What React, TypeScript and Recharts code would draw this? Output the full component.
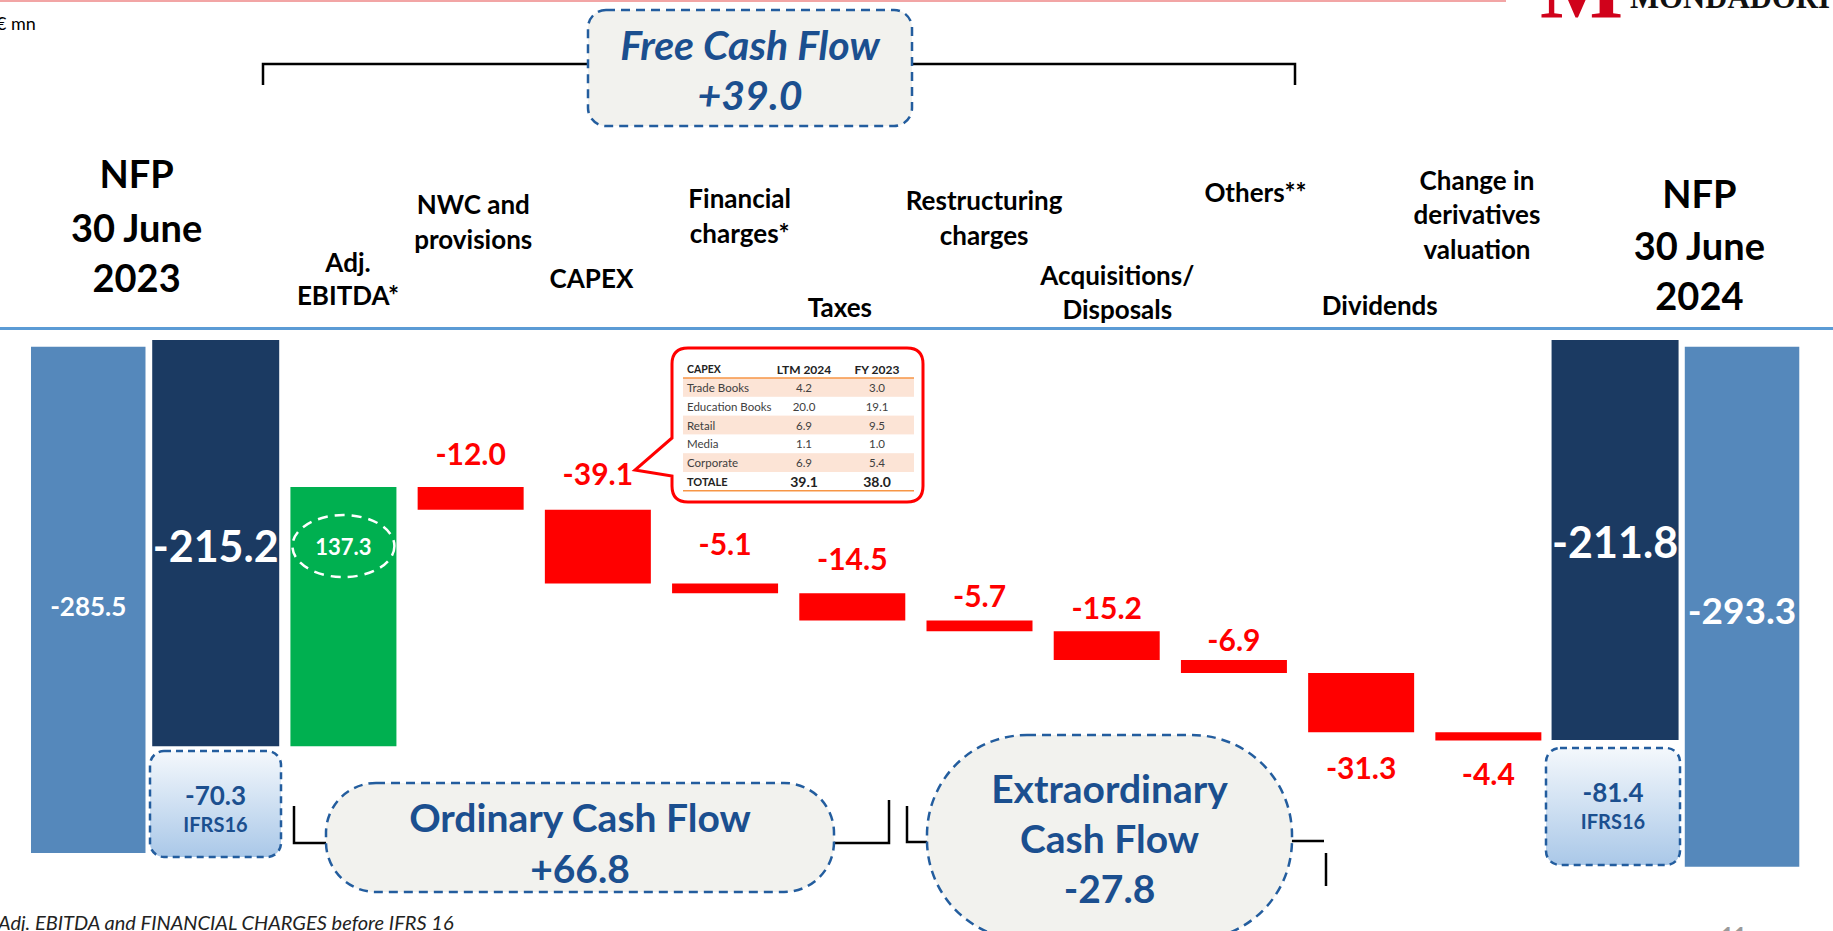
import React from "react";
import { BarChart, Bar, XAxis, YAxis, Cell, LabelList } from "recharts";

// € mn — net financial position bridge, 30 June 2023 -> 30 June 2024
const steps = [
  "NFP 30 June 2023 (incl. IFRS16)",
  "NFP 30 June 2023",
  "Adj. EBITDA*",
  "NWC and provisions",
  "CAPEX",
  "Financial charges*",
  "Taxes",
  "Restructuring charges",
  "Acquisitions/ Disposals",
  "Others**",
  "Dividends",
  "Change in derivatives valuation",
  "NFP 30 June 2024",
  "NFP 30 June 2024 (incl. IFRS16)",
];
const tickLines = [
  ["NFP", "30 June", "2023"],
  [],
  ["Adj.", "EBITDA*"],
  ["NWC and", "provisions"],
  ["CAPEX"],
  ["Financial", "charges*"],
  ["Taxes"],
  ["Restructuring", "charges"],
  ["Acquisitions/", "Disposals"],
  ["Others**"],
  ["Dividends"],
  ["Change in", "derivatives", "valuation"],
  [],
  ["NFP", "30 June", "2024"],
];
const nfpWithIfrs = [-285.5, null, null, null, null, null, null, null, null, null, null, null, null, -293.3];
const nfpNet = [null, -215.2, null, null, null, null, null, null, null, null, null, null, -211.8, null];
const flows = [null, null, 137.3, -12.0, -39.1, -5.1, -14.5, -5.7, -15.2, -6.9, -31.3, -4.4, null, null];
const ifrs16 = [-70.3, -81.4];
const freeCashFlow = 39.0;
const ordinaryCashFlow = 66.8;
const extraordinaryCashFlow = -27.8;

const capexRows = ["Trade Books", "Education Books", "Retail", "Media", "Corporate"];
const capexLtm2024 = [4.2, 20.0, 6.9, 1.1, 6.9];
const capexFy2023 = [3.0, 19.1, 9.5, 1.0, 5.4];
const capexTotals = [39.1, 38.0];

// layout of the labels above the bars (horizontal nudge, line centres)
const tickLayout = [
  { dx: 48, ys: [173, 227, 277], size: 38 },
  { dx: 0, ys: [], size: 26 },
  { dx: 5, ys: [262, 295], size: 26 },
  { dx: 3, ys: [204, 239], size: 26 },
  { dx: -6, ys: [278], size: 26 },
  { dx: 15, ys: [198, 233], size: 26 },
  { dx: -12, ys: [307], size: 26 },
  { dx: 5, ys: [200, 235], size: 26 },
  { dx: 11, ys: [275, 309], size: 26 },
  { dx: 22, ys: [192], size: 26 },
  { dx: 19, ys: [305], size: 26 },
  { dx: -11, ys: [180, 214, 249], size: 26 },
  { dx: 0, ys: [], size: 26 },
  { dx: -43, ys: [193, 245, 295], size: 38 },
];
const flowLabelGap = [0, 0, 0, 34, 37, 41, 35, 26, 24, 21, -35, -33, 0, 0];

const FONT = "Lato, 'Open Sans', sans-serif";
const LIGHT = "#5588bb";
const NAVY = "#1b3a62";
const GREEN = "#00b050";
const RED = "#ff0000";
const BOX_TEXT = "#1b4f8f";
const BOX_LINE = "#235d9e";

const fmt = (v: number) => v.toFixed(1);
const signed = (v: number) => (v > 0 ? "+" : "") + v.toFixed(1);

let running = 0;
const rows = steps.map((step, i) => {
  if (nfpNet[i] != null) running = nfpNet[i] as number;
  let flowRange: number[] | null = null;
  const f = flows[i];
  if (f != null) {
    flowRange = [running, running + f];
    running += f;
  }
  return { step, gross: nfpWithIfrs[i], net: nfpNet[i], flow: f, flowRange };
});

function CategoryTick(props: any) {
  const { x, index } = props;
  const lines = tickLines[index] || [];
  const cfg = tickLayout[index];
  return (
    <g>
      {lines.map((l, k) => (
        <text key={k} x={x + cfg.dx} y={cfg.ys[k]} textAnchor="middle" dominantBaseline="central"
          fontFamily={FONT} fontWeight={700} fontSize={cfg.size} fill="#000">
          {l}
        </text>
      ))}
    </g>
  );
}

function GrossLabel(props: any) {
  const { x, y, width, height, value } = props;
  if (typeof value !== "number") return null;
  const first = value === nfpWithIfrs[0];
  return (
    <text x={x + width / 2} y={y + height / 2 + (first ? 6 : 3)} textAnchor="middle" dominantBaseline="central"
      fontFamily={FONT} fontWeight={700} fontSize={first ? 26 : 37} fill="#fff">
      {fmt(value)}
    </text>
  );
}

function NetLabel(props: any) {
  const { x, y, width, height, value } = props;
  if (typeof value !== "number") return null;
  return (
    <text x={x + width / 2} y={y + height / 2 + 2} textAnchor="middle" dominantBaseline="central"
      fontFamily={FONT} fontWeight={700} fontSize={43} fill="#fff">
      {fmt(value)}
    </text>
  );
}

function FlowLabel(props: any) {
  const { x, y, width, height, value } = props;
  const f = Number(value);
  if (value == null || !isFinite(f)) return null;
  const idx = flows.indexOf(f);
  if (idx < 0) return null;
  const top = Math.min(y, y + height);
  const bottom = Math.max(y, y + height);
  const cx = x + width / 2;
  if (f > 0) {
    const cy = top + 59;
    return (
      <g>
        <ellipse cx={cx} cy={cy} rx={51} ry={31} fill="none" stroke="#fff" strokeWidth={2.5} strokeDasharray="10 7" />
        <text x={cx} y={cy} textAnchor="middle" dominantBaseline="central" fontFamily={FONT} fontWeight={700} fontSize={22} fill="#fff">
          {fmt(f)}
        </text>
      </g>
    );
  }
  const gap = flowLabelGap[idx];
  const cy = gap > 0 ? top - gap : bottom - gap;
  return (
    <text x={cx} y={cy} textAnchor="middle" dominantBaseline="central" fontFamily={FONT} fontWeight={700} fontSize={30} fill={RED}>
      {fmt(f)}
    </text>
  );
}

function DashedBox({ x, y, w, h, r, lines, sizes, ys }: any) {
  return (
    <g>
      <rect x={x} y={y} width={w} height={h} rx={r} fill="#f2f2ee" stroke={BOX_LINE} strokeWidth={2.5} strokeDasharray="9 6" />
      {lines.map((l: string, k: number) => (
        <text key={k} x={x + w / 2} y={ys[k]} textAnchor="middle" dominantBaseline="central"
          fontFamily={FONT} fontWeight={700} fontSize={sizes[k]} fill={BOX_TEXT}>
          {l}
        </text>
      ))}
    </g>
  );
}

function IfrsBox({ x, y, w, h, value }: any) {
  const cx = x + w / 2;
  return (
    <g>
      <rect x={x} y={y} width={w} height={h} rx={14} fill="url(#ifrsGrad)" stroke={BOX_LINE} strokeWidth={2.5} strokeDasharray="7 5" />
      <text x={cx} y={y + 44} textAnchor="middle" dominantBaseline="central" fontFamily={FONT} fontWeight={700} fontSize={26} fill={BOX_TEXT}>
        {fmt(value)}
      </text>
      <text x={cx} y={y + 73} textAnchor="middle" dominantBaseline="central" fontFamily={FONT} fontWeight={700} fontSize={20} fill={BOX_TEXT}>
        IFRS16
      </text>
    </g>
  );
}

function CapexCallout() {
  const rowH = 18.8;
  const top = 378;
  const colLabel = 687;
  const colLtm = 804;
  const colFy = 877;
  return (
    <g fontFamily={FONT}>
      <path d="M 688 348 H 907 Q 923 348 923 364 V 486 Q 923 502 907 502 H 688 Q 672 502 672 486 V 476 L 635 470 L 672 438 V 364 Q 672 348 688 348 Z"
        fill="#fff" stroke={RED} strokeWidth={3} />
      {capexRows.map((_, i) =>
        i % 2 === 0 ? <rect key={i} x={683} y={top + i * rowH} width={231} height={rowH} fill="#fce4d6" /> : null
      )}
      <text x={colLabel} y={369} dominantBaseline="central" fontSize={10.5} fontWeight={700} fill="#222">CAPEX</text>
      <text x={colLtm} y={369} textAnchor="middle" dominantBaseline="central" fontSize={12} fontWeight={700} fill="#222">LTM 2024</text>
      <text x={colFy} y={369} textAnchor="middle" dominantBaseline="central" fontSize={12} fontWeight={700} fill="#222">FY 2023</text>
      <line x1={683} x2={914} y1={top} y2={top} stroke="#f79646" strokeWidth={1.5} />
      {capexRows.map((r, i) => {
        const cy = top + i * rowH + rowH / 2;
        return (
          <g key={r} fontSize={11.5} fill="#404040">
            <text x={colLabel} y={cy} dominantBaseline="central">{r}</text>
            <text x={colLtm} y={cy} textAnchor="middle" dominantBaseline="central">{fmt(capexLtm2024[i])}</text>
            <text x={colFy} y={cy} textAnchor="middle" dominantBaseline="central">{fmt(capexFy2023[i])}</text>
          </g>
        );
      })}
      <text x={colLabel} y={top + 5 * rowH + rowH / 2} dominantBaseline="central" fontSize={11} fontWeight={700} fill="#222">TOTALE</text>
      <text x={colLtm} y={top + 5 * rowH + rowH / 2} textAnchor="middle" dominantBaseline="central" fontSize={14} fontWeight={700} fill="#222">{fmt(capexTotals[0])}</text>
      <text x={colFy} y={top + 5 * rowH + rowH / 2} textAnchor="middle" dominantBaseline="central" fontSize={14} fontWeight={700} fill="#222">{fmt(capexTotals[1])}</text>
      <line x1={683} x2={914} y1={top + 6 * rowH} y2={top + 6 * rowH} stroke="#f79646" strokeWidth={1.5} />
    </g>
  );
}

function Overlay() {
  return (
    <svg width={1833} height={931} style={{ position: "absolute", left: 0, top: 0, pointerEvents: "none" }}>
      <defs>
        <linearGradient id="ifrsGrad" x1="0" y1="0" x2="0" y2="1">
          <stop offset="0%" stopColor="#f4f8fc" />
          <stop offset="100%" stopColor="#aac8e8" />
        </linearGradient>
      </defs>
      <rect x={0} y={0} width={1506} height={2} fill="#f2a5a5" />
      <rect x={0} y={327} width={1833} height={3} fill="#5b9bd5" />
      <text x={-4} y={23} dominantBaseline="central" fontFamily={FONT} fontSize={18} fill="#000">€ mn</text>

      <text x={1540} y={17} fontFamily="'Liberation Serif', 'DejaVu Serif', serif" fontWeight={700} fontSize={88} fill="#d0021b">M</text>
      <text x={1630} y={8} textLength={200} lengthAdjust="spacingAndGlyphs" fontFamily="'Liberation Serif', 'DejaVu Serif', serif" fontWeight={700} fontSize={34} fill="#111">MONDADORI</text>

      <polyline points="263,85 263,64 1295,64 1295,85" fill="none" stroke="#000" strokeWidth={2.5} />
      <g fontStyle="italic">
        <DashedBox x={588} y={10} w={324} h={116} r={18} lines={["Free Cash Flow", signed(freeCashFlow)]} sizes={[41, 41]} ys={[44, 94]} />
      </g>

      <polyline points="294,806 294,843 330,843" fill="none" stroke="#000" strokeWidth={2.5} />
      <polyline points="830,843 889,843 889,800" fill="none" stroke="#000" strokeWidth={2.5} />
      <DashedBox x={326} y={783} w={508} h={109} r={50} lines={["Ordinary Cash Flow", signed(ordinaryCashFlow)]} sizes={[39, 39]} ys={[817, 868]} />

      <polyline points="907,806 907,842 930,842" fill="none" stroke="#000" strokeWidth={2.5} />
      <line x1={1288} x2={1324} y1={841} y2={841} stroke="#000" strokeWidth={2.5} />
      <line x1={1326} x2={1326} y1={853} y2={886} stroke="#000" strokeWidth={2.5} />
      <DashedBox x={927} y={735} w={365} h={205} r={100} lines={["Extraordinary", "Cash Flow", signed(extraordinaryCashFlow)]} sizes={[39, 39, 39]} ys={[788, 838, 888]} />

      <IfrsBox x={150} y={751} w={131} h={106} value={ifrs16[0]} />
      <IfrsBox x={1546} y={748} w={134} h={117} value={ifrs16[1]} />

      <CapexCallout />

      <text x={-2} y={922} dominantBaseline="central" fontFamily={FONT} fontStyle="italic" fontSize={20} fill="#222">
        Adj. EBITDA and FINANCIAL CHARGES before IFRS 16
      </text>
      <text x={1721} y={944} fontFamily={FONT} fontWeight={700} fontSize={22} fill="#9a9a9a">11</text>
    </svg>
  );
}

export default function App() {
  return (
    <div style={{ position: "absolute", left: 0, top: 0, width: 1833, height: 931, overflow: "hidden", background: "#fff" }}>
      <BarChart width={1833} height={931} data={rows} margin={{ top: 0, right: 27, bottom: 0, left: 25 }}>
        <XAxis xAxisId="cat" dataKey="step" orientation="top" height={340} interval={0}
          axisLine={false} tickLine={false} tick={<CategoryTick />} />
        <XAxis xAxisId="net" dataKey="step" hide />
        <XAxis xAxisId="flow" dataKey="step" hide />
        <YAxis yAxisId="gross" hide domain={[-329.5, 3.86]} allowDataOverflow />
        <YAxis yAxisId="main" hide domain={[-313, 0]} allowDataOverflow />
        <Bar xAxisId="cat" yAxisId="gross" dataKey="gross" fill={LIGHT} barSize={128} isAnimationActive={false} label={GrossLabel} />
        <Bar xAxisId="net" yAxisId="main" dataKey="net" fill={NAVY} barSize={127} isAnimationActive={false} label={NetLabel} />
        <Bar xAxisId="flow" yAxisId="main" dataKey="flowRange" barSize={106} isAnimationActive={false}>
          {rows.map((r, i) => (
            <Cell key={r.step} fill={(flows[i] ?? 0) > 0 ? GREEN : RED} />
          ))}
          <LabelList dataKey="flow" content={FlowLabel} />
        </Bar>
      </BarChart>
      <Overlay />
    </div>
  );
}
